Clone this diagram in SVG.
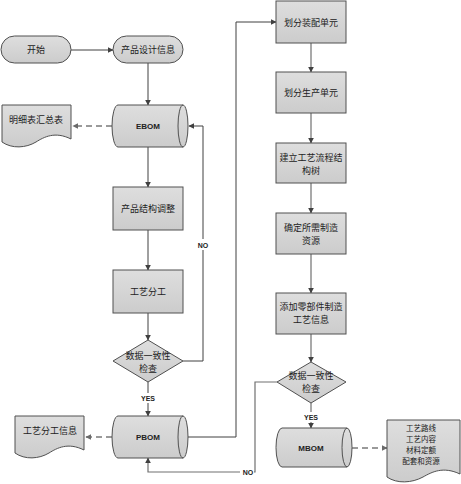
<svg xmlns="http://www.w3.org/2000/svg" width="461" height="484" viewBox="0 0 461 484">
<defs>
<linearGradient id="g" x1="0" y1="0" x2="0" y2="1">
<stop offset="0" stop-color="#dedede"/>
<stop offset="1" stop-color="#cccccc"/>
</linearGradient>
<marker id="a" viewBox="0 0 10 10" refX="9" refY="5" markerWidth="6" markerHeight="6" markerUnits="userSpaceOnUse" orient="auto">
<path d="M0,0 L10,5 L0,10 Z" fill="#404040"/>
</marker>
<marker id="ad" viewBox="0 0 10 10" refX="9" refY="5" markerWidth="6" markerHeight="6" markerUnits="userSpaceOnUse" orient="auto">
<path d="M0,0 L10,5 L0,10 Z" fill="#6a6a6a"/>
</marker>
</defs>
<style>
.s{fill:url(#g);stroke:#505050;stroke-width:1}
.i{fill:none;stroke:#505050;stroke-width:1}
.t{font-family:"Noto Sans CJK SC","Liberation Serif",serif;font-size:9px;fill:#222;text-anchor:middle;dominant-baseline:central}
.m{font-size:7.5px}
.e{font-family:"Liberation Sans",Arial,sans-serif;font-size:8px;font-weight:bold;fill:#222;text-anchor:middle;dominant-baseline:central}
.l{font-family:"Liberation Sans",Arial,sans-serif;font-size:7px;font-weight:bold;fill:#222;text-anchor:middle;dominant-baseline:central}
.c{fill:none;stroke:#404040;stroke-width:1}
.c2{fill:none;stroke:#707070;stroke-width:1.2}
.d{fill:none;stroke:#7a7a7a;stroke-width:1.5;stroke-dasharray:6,4}
</style>

<g id="connectors">
<path class="c" d="M71,50 L113,50" marker-end="url(#a)"/>
<path class="c" d="M148,63 L148,105" marker-end="url(#a)"/>
<path class="d" d="M112,126 L73,126" marker-end="url(#ad)"/>
<path class="c" d="M148,147 L148,187" marker-end="url(#a)"/>
<path class="c" d="M148,230 L148,270" marker-end="url(#a)"/>
<path class="c" d="M148,313 L148,340" marker-end="url(#a)"/>
<path class="c" d="M183,361 L203,361 L203,126 L189,126" marker-end="url(#a)"/>
<path class="c" d="M148,382 L148,416" marker-end="url(#a)"/>
<path class="d" d="M112,437 L86,437" marker-end="url(#ad)"/>
<path class="c" d="M188,437 L236,437 L236,22 L276,22" marker-end="url(#a)"/>
<path class="c2" d="M311,43 L311,72" marker-end="url(#a)"/>
<path class="c2" d="M311,113 L311,143" marker-end="url(#a)"/>
<path class="c2" d="M311,183 L311,213" marker-end="url(#a)"/>
<path class="c2" d="M311,254 L311,293" marker-end="url(#a)"/>
<path class="c2" d="M311,334 L311,362" marker-end="url(#a)"/>
<path class="c2" d="M277,382 L255,382 L255,472 L148,472 L148,458" marker-end="url(#a)"/>
<path class="c2" d="M311,403 L311,428" marker-end="url(#a)"/>
<path class="d" d="M352,448 L387,448" marker-end="url(#ad)"/>
<rect x="196" y="239" width="14" height="11" fill="#fff"/>
<text class="l" x="203" y="245">NO</text>
<rect x="140" y="393" width="16" height="10" fill="#fff"/>
<text class="l" x="148" y="398">YES</text>
<rect x="240" y="467" width="14" height="10" fill="#fff"/>
<text class="l" x="248" y="472">NO</text>
<rect x="303" y="412" width="16" height="10" fill="#fff"/>
<text class="l" x="311" y="417">YES</text>
</g>

<g id="start">
<rect class="s" x="1" y="36" width="70" height="27" rx="13.5"/>
<text class="t" x="36" y="49.5">开始</text>
</g>
<g id="design-info">
<rect class="s" x="113" y="36" width="70" height="27" rx="13.5"/>
<text class="t" x="148" y="49.5">产品设计信息</text>
</g>
<g id="detail-doc">
<path class="s" d="M2,105 L71,105 L71,139 C55,131 44,137 36,142 C26,148 12,149 2,142 Z"/>
<text class="t" x="36" y="119">明细表汇总表</text>
</g>
<g id="ebom">
<path class="s" d="M118,105 L183,105 A5,21 0 0 1 183,147 L118,147 A6,21 0 0 1 118,105 Z"/>
<path class="i" d="M183,105 A5,21 0 0 0 183,147"/>
<text class="e" x="148" y="126">EBOM</text>
</g>
<g id="adjust">
<rect class="s" x="113" y="187" width="70" height="43"/>
<text class="t" x="148" y="208">产品结构调整</text>
</g>
<g id="division">
<rect class="s" x="113" y="270" width="70" height="43"/>
<text class="t" x="148" y="291">工艺分工</text>
</g>
<g id="check1">
<path class="s" d="M148,340 L183,361 L148,382 L113,361 Z"/>
<text class="t" x="148" y="355">数据一致性</text>
<text class="t" x="148" y="368">检查</text>
</g>
<g id="division-doc">
<path class="s" d="M15,416 L84,416 L84,450 C68,442 57,448 49,453 C39,459 25,460 15,453 Z"/>
<text class="t" x="50" y="430">工艺分工信息</text>
</g>
<g id="pbom">
<path class="s" d="M118,416 L183,416 A5,21 0 0 1 183,458 L118,458 A6,21 0 0 1 118,416 Z"/>
<path class="i" d="M183,416 A5,21 0 0 0 183,458"/>
<text class="e" x="148" y="437">PBOM</text>
</g>
<g id="assembly-unit">
<rect class="s" x="276" y="1" width="70" height="42"/>
<text class="t" x="311" y="22">划分装配单元</text>
</g>
<g id="production-unit">
<rect class="s" x="276" y="72" width="70" height="41"/>
<text class="t" x="311" y="92">划分生产单元</text>
</g>
<g id="process-tree">
<rect class="s" x="276" y="143" width="70" height="40"/>
<text class="t" x="311" y="157">建立工艺流程结</text>
<text class="t" x="311" y="170">构树</text>
</g>
<g id="resources">
<rect class="s" x="276" y="213" width="70" height="41"/>
<text class="t" x="311" y="227">确定所需制造</text>
<text class="t" x="311" y="240">资源</text>
</g>
<g id="process-info">
<rect class="s" x="276" y="293" width="70" height="41"/>
<text class="t" x="311" y="306">添加零部件制造</text>
<text class="t" x="311" y="319">工艺信息</text>
</g>
<g id="check2">
<path class="s" d="M311,362 L346,382 L311,403 L277,382 Z"/>
<text class="t" x="311" y="375">数据一致性</text>
<text class="t" x="311" y="388">检查</text>
</g>
<g id="mbom">
<path class="s" d="M282,428 L347,428 A5,19.5 0 0 1 347,467 L282,467 A6,19.5 0 0 1 282,428 Z"/>
<path class="i" d="M347,428 A5,19.5 0 0 0 347,467"/>
<text class="e" x="311" y="448">MBOM</text>
</g>
<g id="mbom-doc">
<path class="s" d="M387,420 L460,420 L460,474 C443,466 432,472 423,477 C412,483 397,484 387,477 Z"/>
<text class="t m" x="421" y="427">工艺路线</text>
<text class="t m" x="421" y="438">工艺内容</text>
<text class="t m" x="421" y="449">材料定额</text>
<text class="t m" x="421" y="460">配套和资源</text>
</g>
</svg>
